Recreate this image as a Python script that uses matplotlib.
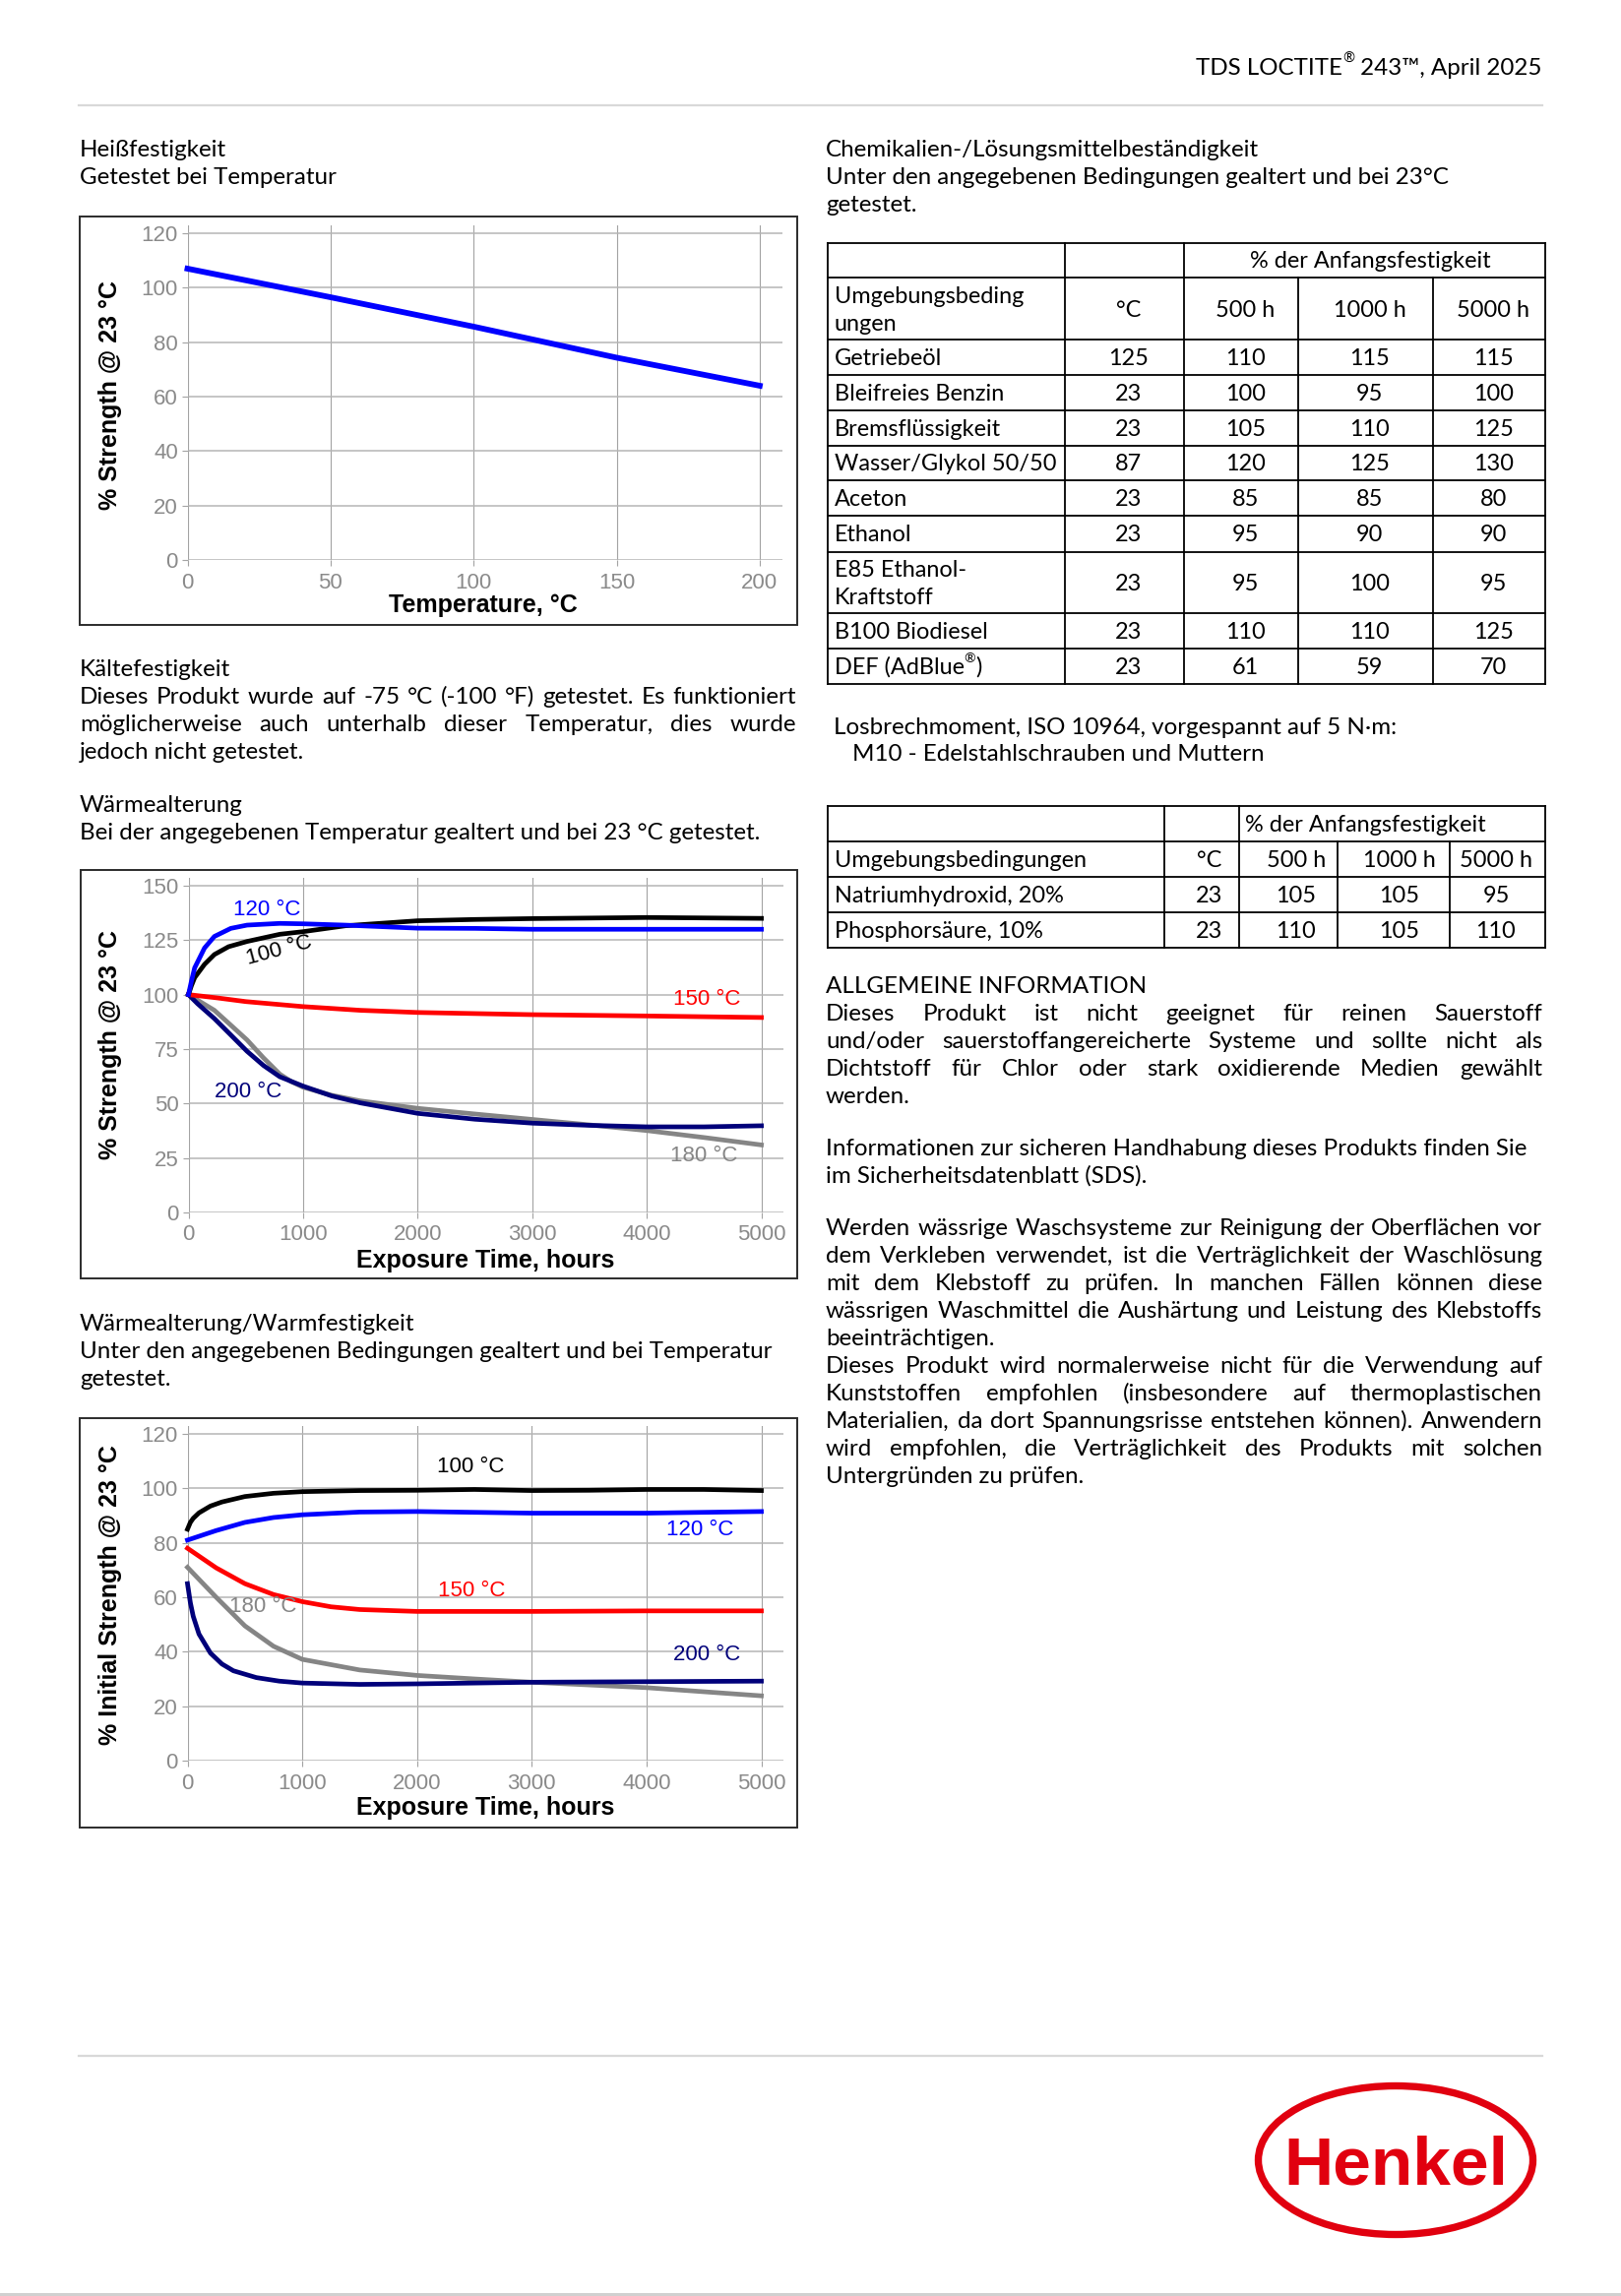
import matplotlib
matplotlib.use("Agg")
import matplotlib.pyplot as plt
from matplotlib.patches import Rectangle, Ellipse

# ---------------- data ----------------
# Heißfestigkeit
HOT_TEMP = [0, 50, 100, 150, 200]
HOT_STRENGTH = [107, 96.5, 85.7, 74.3, 64]

# Wärmealterung, getestet bei 23 °C
AGE_100_H = [0, 25, 54, 140, 226, 350, 511, 797, 1000, 1369, 2000, 2500, 3000, 4000, 5000]
AGE_100_V = [100, 104, 107.8, 113.9, 118.4, 122, 124.4, 127.7, 128.9, 131.6, 133.9, 134.5, 134.9, 135.4, 135]
AGE_120_H = [0, 25, 54, 140, 226, 369, 511, 797, 1000, 1369, 2000, 2500, 3000, 4000, 5000]
AGE_120_V = [100, 106, 112.3, 121.4, 126.7, 130.4, 131.9, 132.7, 132.5, 131.9, 130.5, 130.4, 130, 130, 130]
AGE_150_H = [0, 250, 500, 1000, 1500, 2000, 3000, 4000, 5000]
AGE_150_V = [100, 98.5, 96.8, 94.5, 92.8, 91.8, 90.8, 90.2, 89.5]
AGE_180_H = [0, 226, 369, 511, 654, 797, 900, 1000, 1250, 1500, 2000, 2500, 3000, 3500, 4000, 4500, 5000]
AGE_180_V = [100, 92.8, 86, 79.2, 71, 63.5, 60, 57.5, 53.8, 51.2, 47.8, 45.2, 42.7, 40.2, 37.6, 34.4, 31]
AGE_200_H = [0, 80, 226, 369, 511, 654, 797, 1000, 1250, 1500, 2000, 2500, 3000, 3500, 4000, 4500, 5000]
AGE_200_V = [100, 95.8, 89, 81.5, 74, 67.5, 62.3, 58, 53.5, 50.3, 45.5, 42.8, 41, 40, 39.3, 39.3, 39.8]

# Wärmealterung/Warmfestigkeit
WARM_100_H = [0, 25, 50, 100, 200, 300, 500, 750, 1000, 1500, 2000, 2500, 3000, 3500, 4000, 4500, 5000]
WARM_100_V = [85, 87.5, 89, 91, 93.5, 95, 97, 98.2, 98.8, 99.2, 99.3, 99.6, 99.2, 99.3, 99.6, 99.6, 99.2]
WARM_120_H = [0, 250, 500, 750, 1000, 1500, 2000, 2500, 3000, 4000, 4500, 5000]
WARM_120_V = [81, 84.5, 87.5, 89.3, 90.3, 91.3, 91.5, 91.2, 90.9, 90.9, 91.2, 91.5]
WARM_150_H = [0, 250, 500, 750, 1000, 1250, 1500, 2000, 3000, 4000, 5000]
WARM_150_V = [78, 70.8, 65, 61, 58.4, 56.5, 55.5, 54.8, 54.8, 55, 55]
WARM_180_H = [0, 250, 500, 750, 1000, 1500, 2000, 2500, 3000, 3500, 4000, 4500, 5000]
WARM_180_V = [71, 60, 49.5, 42, 37.2, 33.3, 31.3, 30, 28.8, 27.8, 26.8, 25.3, 23.8]
WARM_200_H = [0, 25, 50, 100, 200, 300, 400, 600, 800, 1000, 1500, 2000, 2500, 3000, 4000, 5000]
WARM_200_V = [65, 58, 53, 46.5, 39.5, 35.5, 33, 30.5, 29.2, 28.5, 28, 28.2, 28.5, 28.8, 29, 29.2]

# Chemikalien-/Lösungsmittelbeständigkeit
CHEM_MEDIA = ["Getriebeöl", "Bleifreies Benzin", "Bremsflüssigkeit", "Wasser/Glykol 50/50",
              "Aceton", "Ethanol", "E85 Ethanol-\nKraftstoff", "B100 Biodiesel", "DEF (AdBlue®)"]
CHEM_TEMP = [125, 23, 23, 87, 23, 23, 23, 23, 23]
CHEM_500 = [110, 100, 105, 120, 85, 95, 95, 110, 61]
CHEM_1000 = [115, 95, 110, 125, 85, 90, 100, 110, 59]
CHEM_5000 = [115, 100, 125, 130, 80, 90, 95, 125, 70]

TORQUE_MEDIA = ["Natriumhydroxid, 20%", "Phosphorsäure, 10%"]
TORQUE_TEMP = [23, 23]
TORQUE_500 = [105, 110]
TORQUE_1000 = [105, 105]
TORQUE_5000 = [95, 110]

# ---------------- page ----------------
W, H = 1647, 2333
BODY = ["Lato", "DejaVu Sans"]
ARIAL = ["Liberation Sans", "DejaVu Sans"]
RED = "#e1000f"

fig = plt.figure(figsize=(W / 100, H / 100), dpi=100)
page = fig.add_axes([0, 0, 1, 1])
page.set_xlim(0, W)
page.set_ylim(H, 0)
page.axis("off")
R = fig.canvas.get_renderer()

probe = page.text(0, 0, "Bei der angegebenen Temperatur gealtert und bei 23 °C getestet.",
                  fontsize=10, family=BODY)
BODY_SIZE = 10 * 695 / probe.get_window_extent(R).width
probe.remove()
EM = BODY_SIZE * 100 / 72
TABLE_SIZE = BODY_SIZE * 0.97


def rich(x, y, s, ha="left", size=None, **kw):
    size = size or BODY_SIZE
    pieces = []
    parts = s.split("®")
    for i, p in enumerate(parts):
        if p:
            pieces.append((p, size, 0))
        if i < len(parts) - 1:
            pieces.append(("®", size * 0.6, -size * 0.5 * 100 / 72))
    arts = [page.text(0, y + dy, p, fontsize=sz, family=BODY, va="baseline", **kw)
            for p, sz, dy in pieces]
    widths = [a.get_window_extent(R).width for a in arts]
    total = sum(widths)
    x = {"left": x, "right": x - total, "center": x - total / 2}[ha]
    for a, w in zip(arts, widths):
        a.set_x(x)
        x += w


def justify(line, x0, x1, y):
    words = line.split(" ")
    arts = [page.text(0, y, w_, fontsize=BODY_SIZE, family=BODY, va="baseline") for w_ in words]
    widths = [a.get_window_extent(R).width for a in arts]
    gap = (x1 - x0 - sum(widths)) / (len(words) - 1)
    x = x0
    for a, w in zip(arts, widths):
        a.set_x(x)
        x += w + gap


def paragraph(lines, x0, x1, y0, step=28):
    for i, (s, mode) in enumerate(lines):
        if mode == "j":
            justify(s, x0, x1, y0 + i * step)
        else:
            rich(x0, y0 + i * step, s)


# header / footer
rich(1567, 76, "TDS LOCTITE® 243™, April 2025", ha="right")
page.plot([80, 1567], [107, 107], color="#d9d9d9", lw=1.6)
page.plot([80, 1567], [2089, 2089], color="#d9d9d9", lw=1.6)
page.add_patch(Rectangle((0, 2330), W, 3, color="#d0d0d0", lw=0))
page.add_patch(Ellipse((1418, 2195), 279, 151, fill=False, ec=RED, lw=5.3))
page.text(1418, 2219, "Henkel", fontsize=50, fontweight="bold", family=ARIAL, color=RED,
          ha="center", va="baseline")

# left column text
L0, L1 = 81, 809
rich(L0, 159, "Heißfestigkeit")
rich(L0, 187, "Getestet bei Temperatur")
rich(L0, 687, "Kältefestigkeit")
paragraph([("Dieses Produkt wurde auf -75 °C (-100 °F) getestet. Es funktioniert", "j"),
           ("möglicherweise auch unterhalb dieser Temperatur, dies wurde", "j"),
           ("jedoch nicht getestet.", "l")], L0, L1, 715)
rich(L0, 825, "Wärmealterung")
rich(L0, 853, "Bei der angegebenen Temperatur gealtert und bei 23 °C getestet.")
rich(L0, 1352, "Wärmealterung/Warmfestigkeit")
rich(L0, 1380, "Unter den angegebenen Bedingungen gealtert und bei Temperatur")
rich(L0, 1408, "getestet.")

# right column text
R0, R1 = 839, 1567
rich(R0, 159, "Chemikalien-/Lösungsmittelbeständigkeit")
rich(R0, 187, "Unter den angegebenen Bedingungen gealtert und bei 23°C")
rich(R0, 215, "getestet.")
rich(847, 746, "Losbrechmoment, ISO 10964, vorgespannt auf 5 N·m:")
rich(866, 773, "M10 - Edelstahlschrauben und Muttern")

rich(R0, 1009, "ALLGEMEINE INFORMATION")
paragraph([("Dieses Produkt ist nicht geeignet für reinen Sauerstoff", "j"),
           ("und/oder sauerstoffangereicherte Systeme und sollte nicht als", "j"),
           ("Dichtstoff für Chlor oder stark oxidierende Medien gewählt", "j"),
           ("werden.", "l")], R0, R1, 1037)
paragraph([("Informationen zur sicheren Handhabung dieses Produkts finden Sie", "l"),
           ("im Sicherheitsdatenblatt (SDS).", "l")], R0, R1, 1174)
paragraph([("Werden wässrige Waschsysteme zur Reinigung der Oberflächen vor", "j"),
           ("dem Verkleben verwendet, ist die Verträglichkeit der Waschlösung", "j"),
           ("mit dem Klebstoff zu prüfen. In manchen Fällen können diese", "j"),
           ("wässrigen Waschmittel die Aushärtung und Leistung des Klebstoffs", "j"),
           ("beeinträchtigen.", "l"),
           ("Dieses Produkt wird normalerweise nicht für die Verwendung auf", "j"),
           ("Kunststoffen empfohlen (insbesondere auf thermoplastischen", "j"),
           ("Materialien, da dort Spannungsrisse entstehen können). Anwendern", "j"),
           ("wird empfohlen, die Verträglichkeit des Produkts mit solchen", "j"),
           ("Untergründen zu prüfen.", "l")], R0, R1, 1255)


# ---------------- tables ----------------
def table_grid(xs, ys):
    for y in ys:
        page.plot([xs[0], xs[-1]], [y, y], color="black", lw=1.3, solid_capstyle="projecting")
    for i, x in enumerate(xs):
        top = ys[1] if 2 < i < len(xs) - 1 else ys[0]
        page.plot([x, x], [top, ys[-1]], color="black", lw=1.3, solid_capstyle="projecting")


def cell(s, x, ytop, ybot, ha="center"):
    lines = s.split("\n")
    yc = (ytop + ybot) / 2 - (len(lines) - 1) * 14
    for k, ln in enumerate(lines):
        rich(x, yc + k * 28 + 0.33 * EM, ln, ha=ha, size=TABLE_SIZE)


T1X = [840.6, 1082.4, 1203, 1319.4, 1456, 1570.4]
T1Y = [246.7, 282.3, 345, 380.7, 416.7, 452.7, 488.3, 524.3, 560.7, 622.7, 658.7, 695]
table_grid(T1X, T1Y)
c1 = [(T1X[i] + T1X[i + 1]) / 2 + 4 for i in range(5)]
cell("% der Anfangsfestigkeit", (T1X[2] + T1X[5]) / 2 + 6, T1Y[0], T1Y[1])
for s, x in zip(["Umgebungsbeding\nungen", "°C", "500 h", "1000 h", "5000 h"],
                [T1X[0] + 7] + c1[1:]):
    cell(s, x, T1Y[1], T1Y[2], ha="left" if s.startswith("U") else "center")
for r, vals in enumerate(zip(CHEM_MEDIA, CHEM_TEMP, CHEM_500, CHEM_1000, CHEM_5000)):
    cell(vals[0], T1X[0] + 7, T1Y[r + 2], T1Y[r + 3], ha="left")
    for c in range(1, 5):
        cell(str(vals[c]), c1[c], T1Y[r + 2], T1Y[r + 3])

T2X = [840.6, 1183.4, 1259.3, 1358.8, 1472.8, 1570.4]
T2Y = [819, 855, 891, 927, 963]
table_grid(T2X, T2Y)
c2 = [None, 1229, 1317, 1422, 1520]
cell("% der Anfangsfestigkeit", T2X[2] + 6, T2Y[0], T2Y[1], ha="left")
cell("Umgebungsbedingungen", T2X[0] + 7, T2Y[1], T2Y[2], ha="left")
for c, s in enumerate(["°C", "500 h", "1000 h", "5000 h"], start=1):
    cell(s, c2[c], T2Y[1], T2Y[2])
for r, vals in enumerate(zip(TORQUE_MEDIA, TORQUE_TEMP, TORQUE_500, TORQUE_1000, TORQUE_5000)):
    cell(vals[0], T2X[0] + 7, T2Y[r + 2], T2Y[r + 3], ha="left")
    for c in range(1, 5):
        cell(str(vals[c]), c2[c], T2Y[r + 2], T2Y[r + 3])


# ---------------- charts ----------------
def chart(box, rect, xmax, ymax, xticks, yticks, ylabel, ylab_xy, xlabel, xlab_xy):
    bl, bt, br, bb = box
    page.add_patch(Rectangle((bl, bt), br - bl, bb - bt, fill=False, ec="#2b2b2b", lw=1.4))
    l, t, r, b = rect
    ax = fig.add_axes([l / W, 1 - b / H, (r - l) / W, (b - t) / H])
    ax.set_xlim(0, xmax)
    ax.set_ylim(0, ymax)
    ax.set_xticks(xticks)
    ax.set_yticks(yticks)
    for s in ax.spines.values():
        s.set_visible(False)
    ax.patch.set_alpha(0)
    ax.set_axisbelow(True)
    ax.grid(axis="y", color="#b5b5b5", lw=1.1)
    ax.grid(axis="x", color="#a3a3a3", lw=0.8)
    ax.tick_params(length=4, width=0.8, color="#a3a3a3", labelcolor="#8a8a8a",
                   labelsize=16, pad=3, labelfontfamily="Liberation Sans")
    ax.tick_params(axis="x", pad=5)
    page.text(*ylab_xy, ylabel, rotation=90, fontsize=18, fontweight="bold", family=ARIAL,
              ha="center", va="center")
    page.text(*xlab_xy, xlabel, fontsize=18, fontweight="bold", family=ARIAL,
              ha="center", va="center")
    return ax


def label(ax, x, y, s, color, rot=0):
    ax.text(x, y, s, color=color, fontsize=16, family=ARIAL, ha="center", va="center",
            rotation=rot)


BLUE, NAVY, GRAY = "#0000ff", "#00007a", "#858585"
CURVE_LW = 3.4

ax1 = chart((81, 220, 810, 635), (190.5, 229, 794.6, 569), 207.8, 122.9,
            [0, 50, 100, 150, 200], [0, 20, 40, 60, 80, 100, 120],
            "% Strength @ 23 °C", (112, 401), "Temperature, °C", (491, 615))
ax1.plot(HOT_TEMP, HOT_STRENGTH, color=BLUE, lw=4.2, clip_on=False)

ax2 = chart((82, 884, 810, 1299), (191.5, 892, 795.6, 1232), 5189, 153.6,
            range(0, 5001, 1000), range(0, 151, 25),
            "% Strength @ 23 °C", (112, 1062), "Exposure Time, hours", (493, 1281))
for hh, vv, col in [(AGE_180_H, AGE_180_V, GRAY), (AGE_200_H, AGE_200_V, NAVY),
                    (AGE_150_H, AGE_150_V, "#ff0000"), (AGE_100_H, AGE_100_V, "black"),
                    (AGE_120_H, AGE_120_V, BLUE)]:
    ax2.plot(hh, vv, color=col, lw=CURVE_LW, clip_on=False, solid_joinstyle="round")
label(ax2, 685, 138.7, "120 °C", BLUE)
label(ax2, 790, 120.3, "100 °C", "black", rot=15)
label(ax2, 4520, 98, "150 °C", "#ff0000")
label(ax2, 518, 55.3, "200 °C", NAVY)
label(ax2, 4500, 25.8, "180 °C", GRAY)

ax3 = chart((81, 1441, 810, 1857), (190.5, 1449, 795.6, 1789), 5189, 122.9,
            range(0, 5001, 1000), range(0, 121, 20),
            "% Initial Strength @ 23 °C", (112, 1621), "Exposure Time, hours", (493, 1837))
for hh, vv, col in [(WARM_180_H, WARM_180_V, GRAY), (WARM_200_H, WARM_200_V, NAVY),
                    (WARM_150_H, WARM_150_V, "#ff0000"), (WARM_120_H, WARM_120_V, BLUE),
                    (WARM_100_H, WARM_100_V, "black")]:
    ax3.plot(hh, vv, color=col, lw=CURVE_LW, clip_on=False, solid_joinstyle="round")
label(ax3, 2470, 108, "100 °C", "black")
label(ax3, 4462, 84.6, "120 °C", BLUE)
label(ax3, 2479, 62.5, "150 °C", "#ff0000")
label(ax3, 654, 56.7, "180 °C", GRAY)
label(ax3, 4526, 38.8, "200 °C", NAVY)

fig.savefig("out.png", dpi=100)
